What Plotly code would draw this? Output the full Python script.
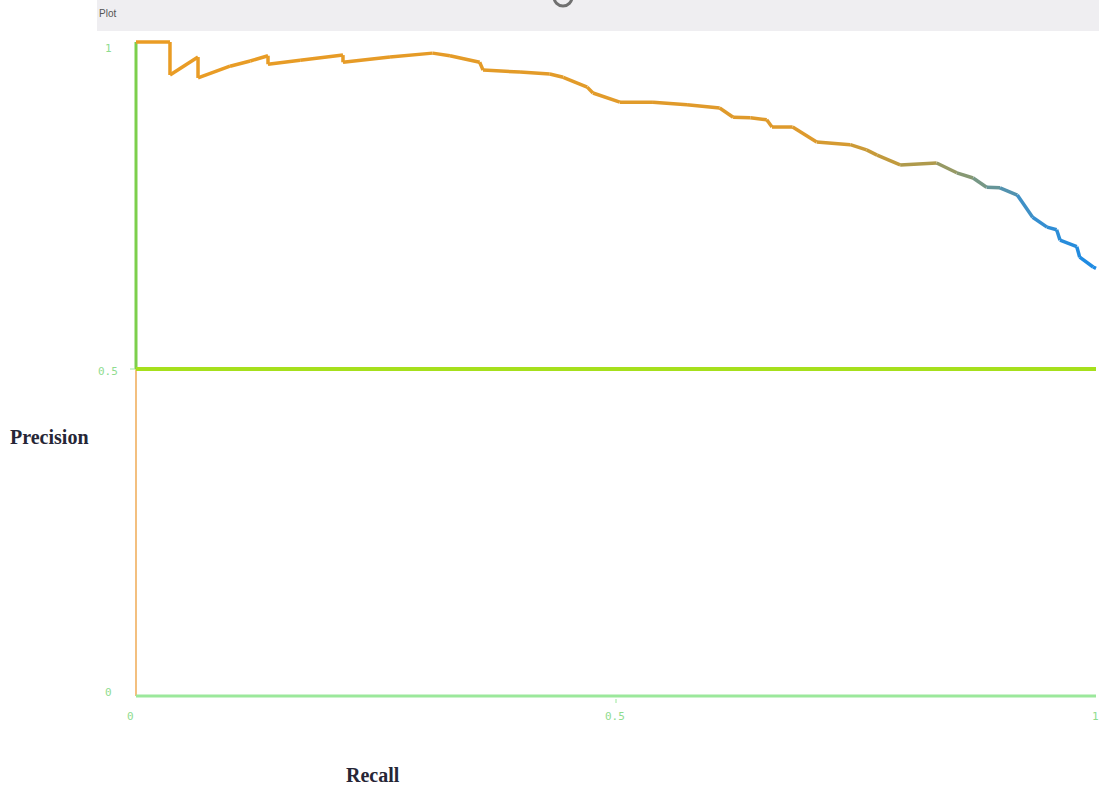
import plotly.graph_objects as go

# Precision-recall curve
recall = [0.0, 0.0354, 0.0354, 0.0646, 0.0646, 0.0979, 0.119, 0.1375, 0.1375, 0.171,
          0.2156, 0.2156, 0.2646, 0.309, 0.327, 0.358, 0.3615, 0.40, 0.431, 0.445,
          0.470, 0.476, 0.504, 0.5385, 0.574, 0.608, 0.622, 0.640, 0.657, 0.6625,
          0.684, 0.709, 0.744, 0.761, 0.772, 0.796, 0.834, 0.855, 0.872, 0.886,
          0.900, 0.918, 0.934, 0.949, 0.959, 0.9625, 0.980, 0.983, 0.997, 1.0]
precision = [1.0, 1.0, 0.9495, 0.977, 0.945, 0.963, 0.971, 0.979, 0.966, 0.972,
             0.980, 0.969, 0.977, 0.983, 0.979, 0.969, 0.957, 0.954, 0.951, 0.946,
             0.931, 0.922, 0.908, 0.908, 0.904, 0.899, 0.885, 0.884, 0.881, 0.870,
             0.870, 0.847, 0.843, 0.835, 0.827, 0.812, 0.815, 0.800, 0.792, 0.778,
             0.777, 0.766, 0.732, 0.717, 0.713, 0.697, 0.687, 0.671, 0.656, 0.654]

# No-skill baseline path
baseline_recall = [0.0, 0.0, 1.0]
baseline_precision = [1.0, 0.5, 0.5]

tick_values = [0, 0.5, 1]
tick_labels = ["0", "0.5", "1"]

# colour ramp along recall: orange -> olive -> blue
ramp = [(0.0, (234, 156, 36)), (0.70, (222, 154, 44)), (0.80, (188, 154, 64)),
        (0.87, (128, 152, 120)), (0.93, (58, 143, 204)), (1.0, (26, 138, 230))]


def ramp_color(t):
    for (t0, c0), (t1, c1) in zip(ramp[:-1], ramp[1:]):
        if t <= t1:
            f = (t - t0) / (t1 - t0) if t1 > t0 else 0
            c = [round(a + (b - a) * f) for a, b in zip(c0, c1)]
            return f"rgb({c[0]},{c[1]},{c[2]})"
    c = ramp[-1][1]
    return f"rgb({c[0]},{c[1]},{c[2]})"


W, H = 1099, 786
L, R, T, B = 126, 0, 36, 84
x_scale, y_scale = 960.0, 654.0
x0_px, y0_px = 136.0, 696.0

x_range = [(L - x0_px) / x_scale, (W - R - x0_px) / x_scale]
y_range = [(y0_px - (H - B)) / y_scale, (y0_px - T) / y_scale]


def px_x(px):
    return (px - L) / (W - L - R)


def px_y(py):
    return ((H - B) - py) / (H - T - B)


def val_x(v):
    return px_x(x0_px + v * x_scale)


def val_y(v):
    return px_y(y0_px - v * y_scale)


fig = go.Figure()

# thin orange left edge under the green baseline segment
fig.add_trace(go.Scatter(x=[0, 0], y=[0, 1], mode="lines",
                         line=dict(color="#f0b060", width=1.6), hoverinfo="skip"))

# upper part of the baseline (vertical) and horizontal 0.5 line
fig.add_trace(go.Scatter(x=baseline_recall[:2], y=baseline_precision[:2], mode="lines",
                         line=dict(color="#7ccf4c", width=3), hoverinfo="skip"))
fig.add_trace(go.Scatter(x=baseline_recall[1:], y=baseline_precision[1:], mode="lines",
                         line=dict(color="#a6e01c", width=4), hoverinfo="skip"))

# x axis line at precision 0
fig.add_trace(go.Scatter(x=[0, 1], y=[0, 0], mode="lines",
                         line=dict(color="#9be89b", width=3), hoverinfo="skip"))

# curve drawn segment by segment so the colour can shift along recall
for i in range(len(recall) - 1):
    mid = (recall[i] + recall[i + 1]) / 2
    fig.add_trace(go.Scatter(x=recall[i:i + 2], y=precision[i:i + 2], mode="lines",
                             line=dict(color=ramp_color(mid), width=3.5),
                             hoverinfo="skip"))

# tick labels
mono = "DejaVu Sans Mono"
tick_font = dict(family=mono, size=11, color="#8fdc8f")
y_label_dy = {0: -4, 0.5: 2, 1: 6}
x_label_dx = {0: -6, 0.5: -1, 1: -1}
for v, t in zip(tick_values, tick_labels):
    fig.add_annotation(x=px_x(108), y=px_y(y0_px - v * y_scale + y_label_dy[v]),
                       xref="paper", yref="paper", text=t, showarrow=False, font=tick_font,
                       xanchor="center", yanchor="middle")
    fig.add_annotation(x=px_x(x0_px + v * x_scale + x_label_dx[v]), y=px_y(716),
                       xref="paper", yref="paper", text=t, showarrow=False, font=tick_font,
                       xanchor="center", yanchor="middle")

# small tick marks
fig.add_shape(type="line", x0=px_x(130), x1=px_x(135), y0=val_y(0.5), y1=val_y(0.5),
              xref="paper", yref="paper", line=dict(color="#9be89b", width=1))
fig.add_shape(type="line", x0=val_x(0.5), x1=val_x(0.5), y0=px_y(699), y1=px_y(703),
              xref="paper", yref="paper", line=dict(color="#9be89b", width=1))

# header bar
fig.add_shape(type="rect", xref="paper", yref="paper", x0=px_x(97), x1=px_x(1099),
              y0=px_y(31), y1=px_y(0), fillcolor="#efeef1", line=dict(width=0), layer="below")
fig.add_shape(type="circle", xref="paper", yref="paper", x0=px_x(554), x1=px_x(572),
              y0=px_y(6), y1=px_y(-12), line=dict(color="#707070", width=3))
fig.add_annotation(x=px_x(97), y=px_y(14), xref="paper", yref="paper", text="Plot",
                   showarrow=False, xanchor="left", yanchor="middle",
                   font=dict(family="Liberation Sans", size=10, color="#555555"))

# axis titles
title_font = dict(family="Liberation Serif", size=20, color="#262636")
fig.add_annotation(x=px_x(49), y=px_y(437), xref="paper", yref="paper", text="<b>Precision</b>",
                   showarrow=False, font=title_font, xanchor="center", yanchor="middle")
fig.add_annotation(x=px_x(373), y=px_y(775), xref="paper", yref="paper", text="<b>Recall</b>",
                   showarrow=False, font=title_font, xanchor="center", yanchor="middle")

fig.update_layout(
    width=W, height=H,
    margin=dict(l=L, r=R, t=T, b=B),
    paper_bgcolor="white", plot_bgcolor="white",
    showlegend=False,
    xaxis=dict(range=x_range, showgrid=False, zeroline=False, showticklabels=False,
               showline=False, ticks=""),
    yaxis=dict(range=y_range, showgrid=False, zeroline=False, showticklabels=False,
               showline=False, ticks=""),
)

fig.write_html("out.html")
